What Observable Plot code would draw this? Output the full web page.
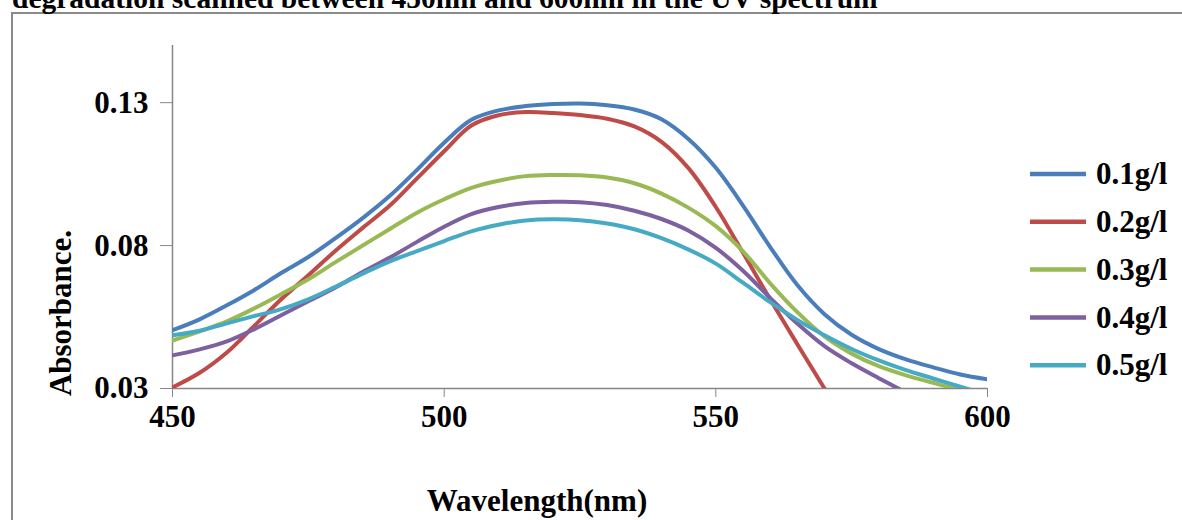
<!DOCTYPE html>
<html><head><meta charset="utf-8">
<script src="https://cdn.jsdelivr.net/npm/d3@7"></script>
<script src="https://cdn.jsdelivr.net/npm/@observablehq/plot@0.6"></script>
<style>
html,body{margin:0;padding:0;background:#fff;}
</style></head><body><div id="chart"></div>
<script>
const wavelengths = [450,455,460,465,470,475,480,485,490,495,500,505,510,515,520,525,530,535,540,545,550,555,560,565,570,575,580,585,590,595,600];
const seriesNames = ["0.1g/l","0.2g/l","0.3g/l","0.4g/l","0.5g/l"];
const seriesColors = ["#4A7EBB","#BE4B48","#98B954","#7D60A0","#46AAC5"];
const abs01 = [0.0504,0.0542,0.0591,0.0644,0.0704,0.0760,0.0826,0.0896,0.0974,0.1065,0.1160,0.1240,0.1273,0.1288,0.1295,0.1297,0.1291,0.1276,0.1242,0.1172,0.1072,0.0940,0.0795,0.0662,0.0560,0.0488,0.0438,0.0402,0.0374,0.0349,0.0332];
const abs02 = [0.0304,0.0355,0.0426,0.0518,0.0612,0.0696,0.0782,0.0862,0.0940,0.1035,0.1130,0.1220,0.1256,0.1267,0.1264,0.1257,0.1244,0.1217,0.1163,0.1070,0.0935,0.0775,0.0612,0.0455,0.0300,null,null,null,null,null,null];
const abs03 = [0.0468,0.0500,0.0535,0.0580,0.0630,0.0682,0.0742,0.0800,0.0858,0.0915,0.0962,0.1002,0.1027,0.1043,0.1047,0.1046,0.1038,0.1018,0.0982,0.0932,0.0868,0.0780,0.0668,0.0567,0.0482,0.0422,0.0378,0.0346,0.0320,0.0294,null];
const abs04 = [0.0416,0.0437,0.0465,0.0507,0.0556,0.0605,0.0653,0.0708,0.0758,0.0813,0.0866,0.0910,0.0935,0.0949,0.0953,0.0952,0.0942,0.0922,0.0893,0.0852,0.0792,0.0712,0.0617,0.0527,0.0448,0.0388,0.0336,0.0286,null,null,null];
const abs05 = [0.0486,0.0502,0.0528,0.0553,0.0578,0.0612,0.0656,0.0702,0.0745,0.0781,0.0816,0.0850,0.0873,0.0888,0.0892,0.0889,0.0877,0.0857,0.0826,0.0786,0.0737,0.0670,0.0602,0.0540,0.0486,0.0438,0.0398,0.0364,0.0335,0.0306,0.0278];
const yTicks = [0.03,0.08,0.13];
const xTicks = [450,500,550,600];
const titleText = "degradation scanned between 450nm and 600nm in the UV spectrum";
const xLabel = "Wavelength(nm)";
const yLabel = "Absorbance.";

const allSeries = [abs01,abs02,abs03,abs04,abs05];
const data = [];
allSeries.forEach((arr,i)=>arr.forEach((v,j)=>{ if(v!=null) data.push({series:seriesNames[i], w:wavelengths[j], a:v}); }));

const font = "'Liberation Serif','Times New Roman',serif";
const fs = 31;
const axisGray = "#868686";
const chart = Plot.plot({
  width:1182, height:520,
  marginLeft:172, marginRight:195, marginTop:45, marginBottom:132,
  style:{fontFamily:font, fontWeight:"bold", fontSize:fs+"px", color:"#000", background:"#fff", overflow:"visible"},
  x:{domain:[450,600]},
  y:{domain:[0.03,0.15]},
  color:{domain:seriesNames, range:seriesColors},
  marks:[
    Plot.ruleY([0.03],{stroke:axisGray, strokeWidth:1.5}),
    Plot.ruleX([450],{stroke:axisGray, strokeWidth:1.5}),
    Plot.axisX({ticks:xTicks, tickFormat:d=>String(d), tickSize:9, tickPadding:7, label:null, stroke:axisGray, fill:"#000", fontSize:fs, fontWeight:"bold"}),
    Plot.axisY({ticks:yTicks, tickFormat:d3.format(".2f"), tickSize:12, tickPadding:12, label:null, stroke:axisGray, fill:"#000", fontSize:fs, fontWeight:"bold"}),
    Plot.line(data,{x:"w", y:"a", z:"series", stroke:"series", strokeWidth:4, curve:"catmull-rom", clip:true})
  ]
});
document.getElementById("chart").appendChild(chart);

const svg = d3.select(chart);
const addText = (sel) => sel.attr("font-size",fs).attr("font-weight","bold").attr("font-family",font).attr("fill","#000");
// border
svg.append("path").attr("d","M12,520V13H1182").attr("fill","none").attr("stroke","#8a8a8a").attr("stroke-width",2);
// cut-off title
svg.append("text").attr("x",12).attr("y",8).attr("text-anchor","start").attr("font-size",29.5).attr("font-weight","bold").attr("font-family",font).attr("fill","#000").text(titleText);
// axis labels
addText(svg.append("text").attr("transform","translate(71,313) rotate(-90)").attr("text-anchor","middle")).text(yLabel);
addText(svg.append("text").attr("x",537).attr("y",511).attr("text-anchor","middle")).text(xLabel);
// legend
const lg = svg.append("g");
seriesNames.forEach((name,i)=>{
  const yy = 174 + i*47.8;
  lg.append("line").attr("x1",1030).attr("x2",1086).attr("y1",yy).attr("y2",yy).attr("stroke",seriesColors[i]).attr("stroke-width",4.5);
  addText(lg.append("text").attr("x",1096).attr("y",yy).attr("dy","0.33em").attr("text-anchor","start")).text(name);
});
</script></body></html>
